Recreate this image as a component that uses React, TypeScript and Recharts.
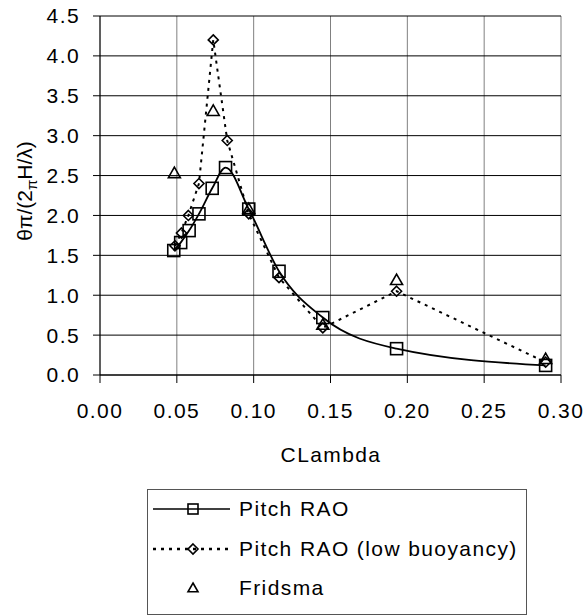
import {
  ComposedChart,
  Line,
  Scatter,
  XAxis,
  YAxis,
  CartesianGrid,
  Legend,
} from "recharts";

// CLambda vs pitch response
const pitchX = [0.048, 0.0525, 0.058, 0.0644, 0.073, 0.0817, 0.0968, 0.1165, 0.145, 0.193, 0.29];
const pitchY = [1.56, 1.66, 1.81, 2.02, 2.34, 2.6, 2.08, 1.3, 0.72, 0.33, 0.12];

const lowBuoyX = [0.0488, 0.053, 0.0575, 0.0644, 0.0737, 0.0828, 0.0968, 0.1165, 0.145, 0.193, 0.29];
const lowBuoyY = [1.62, 1.78, 2.0, 2.4, 4.2, 2.94, 2.02, 1.22, 0.59, 1.05, 0.16];

const fridsmaX = [0.0484, 0.0737, 0.0968, 0.145, 0.193, 0.29];
const fridsmaY = [2.53, 3.31, 2.08, 0.63, 1.19, 0.2];

const xTicks = [0, 0.05, 0.1, 0.15, 0.2, 0.25, 0.3];
const yTicks = [0, 0.5, 1, 1.5, 2, 2.5, 3, 3.5, 4, 4.5];

const seriesNames = ["Pitch RAO", "Pitch RAO (low buoyancy)", "Fridsma"];

const FONT = "Arial, 'Liberation Sans', sans-serif";
const FS = 21;

const pitchData = pitchX.map((x, i) => ({ x, y: pitchY[i] }));
const lowBuoyData = lowBuoyX.map((x, i) => ({ x, y: lowBuoyY[i] }));
const fridsmaData = fridsmaX.map((x, i) => ({ x, y: fridsmaY[i] }));

function Square({ cx, cy, s = 12 }: { cx: number; cy: number; s?: number }) {
  return (
    <rect x={cx - s / 2} y={cy - s / 2} width={s} height={s} fill="none" stroke="#000" strokeWidth={1.6} />
  );
}

function Diamond({ cx, cy, r = 5 }: { cx: number; cy: number; r?: number }) {
  return (
    <path
      d={`M${cx},${cy - r}L${cx + r},${cy}L${cx},${cy + r}L${cx - r},${cy}Z`}
      fill="none"
      stroke="#000"
      strokeWidth={1.6}
    />
  );
}

function Triangle({ cx, cy, r = 6 }: { cx: number; cy: number; r?: number }) {
  return (
    <path
      d={`M${cx},${cy - r}L${cx + r},${cy + r * 0.75}L${cx - r},${cy + r * 0.75}Z`}
      fill="none"
      stroke="#000"
      strokeWidth={1.6}
    />
  );
}

function LegendBox() {
  const rows = [509, 549, 588].map((y) => y - 489);
  return (
    <svg width={380} height={126} style={{ display: "block" }}>
      <rect x={0.5} y={0.5} width={379} height={125} fill="#fff" stroke="#555" strokeWidth={1} />
      <line x1={6} x2={83} y1={rows[0]} y2={rows[0]} stroke="#000" strokeWidth={1.6} />
      <Square cx={46} cy={rows[0]} s={10} />
      <line x1={6} x2={83} y1={rows[1]} y2={rows[1]} stroke="#000" strokeWidth={2.5} strokeDasharray="3 5" />
      <Diamond cx={46} cy={rows[1]} r={5} />
      <Triangle cx={46} cy={rows[2]} r={5} />
      {seriesNames.map((n, i) => (
        <text key={n} x={92} y={rows[i]} dy="0.35em" fontFamily={FONT} fontSize={FS} fill="#000">
          {n}
        </text>
      ))}
    </svg>
  );
}

export default function App() {
  return (
    <div
      style={{
        position: "absolute",
        left: 0,
        top: 0,
        width: 588,
        height: 615,
        background: "#fff",
        fontFamily: FONT,
        letterSpacing: "1.4px",
      }}
    >
      <ComposedChart width={588} height={615} margin={{ top: 16, right: 27, left: 0, bottom: 180 }}>
        <CartesianGrid horizontal={false} stroke="#808080" />
        <CartesianGrid vertical={false} stroke="#000" />
        <XAxis
          type="number"
          dataKey="x"
          domain={[0, 0.3]}
          ticks={xTicks}
          tickFormatter={(v: number) => v.toFixed(2)}
          stroke="#000"
          tick={{ fill: "#000", fontSize: FS, fontFamily: FONT }}
          tickSize={8}
          tickMargin={20}
          height={60}
          allowDataOverflow
          label={{
            content: () => (
              <text x={331} y={455} dy="0.35em" textAnchor="middle" fontFamily={FONT} fontSize={FS} fill="#000">
                CLambda
              </text>
            ),
          }}
        />
        <YAxis
          type="number"
          domain={[0, 4.5]}
          ticks={yTicks}
          tickFormatter={(v: number) => v.toFixed(1)}
          stroke="#000"
          tick={{ fill: "#000", fontSize: FS, fontFamily: FONT }}
          tickSize={7}
          tickMargin={13}
          width={100}
          label={{
            content: () => (
              <text
                transform="translate(25,191) rotate(-90)"
                textAnchor="middle"
                dy="0.35em"
                fontFamily={FONT}
                fontSize={FS}
                fill="#000"
                style={{ letterSpacing: "0px" }}
              >
                θπ/(2<tspan fontSize={15} dy={5}>π</tspan>
                <tspan dy={-5}>H/λ)</tspan>
              </text>
            ),
          }}
        />
        <Line
          data={lowBuoyData}
          dataKey="y"
          name={seriesNames[1]}
          type="linear"
          stroke="#000"
          strokeWidth={2}
          strokeDasharray="3 5"
          isAnimationActive={false}
          dot={(p: any) => <Diamond key={`d-${p.index}`} cx={p.cx} cy={p.cy} />}
          activeDot={false}
        />
        <Line
          data={pitchData}
          dataKey="y"
          name={seriesNames[0]}
          type="monotone"
          stroke="#000"
          strokeWidth={1.8}
          isAnimationActive={false}
          dot={(p: any) => <Square key={`s-${p.index}`} cx={p.cx} cy={p.cy} />}
          activeDot={false}
        />
        <Scatter
          data={fridsmaData}
          dataKey="y"
          name={seriesNames[2]}
          isAnimationActive={false}
          shape={(p: any) => <Triangle cx={p.cx} cy={p.cy} />}
        />
        <Legend
          layout="horizontal"
          verticalAlign="middle"
          align="center"
          wrapperStyle={{ position: "absolute", left: 147, top: 489, width: 380, height: 126 }}
          content={() => <LegendBox />}
        />
      </ComposedChart>
    </div>
  );
}
